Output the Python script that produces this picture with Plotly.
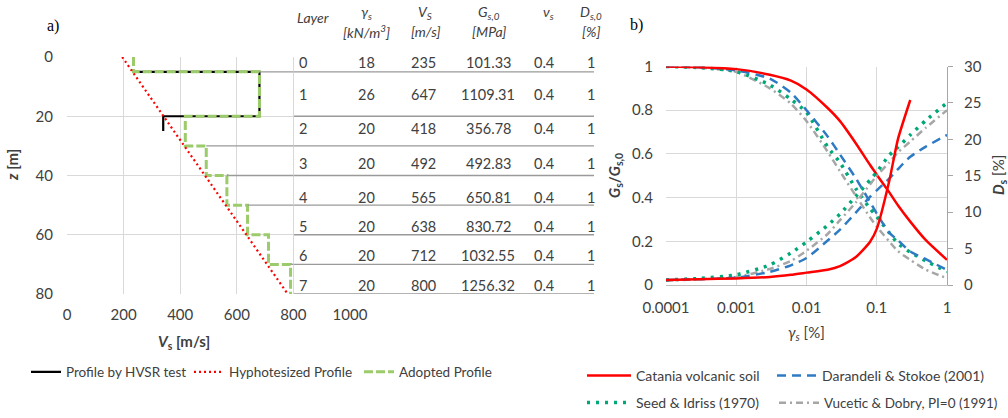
import plotly.graph_objects as go

W, H = 1008, 418
def px(x): return x / W
def py(y): return 1 - y / H

# ---------------- Panel a) data ----------------
hvsr_vs = [240, 680, 680, 340, 340]
hvsr_z = [5, 5, 20, 20, 25]

layer_top = [0, 5, 20, 30, 40, 50, 60, 70]
layer_bot = [5, 20, 30, 40, 50, 60, 70, 80]
adopted_vs = [235, 680, 418, 492, 565, 638, 712, 790]

hyp_vs = [195, 780]
hyp_z = [0, 80]

# table
layers = ["0", "1", "2", "3", "4", "5", "6", "7"]
gamma_s = ["18", "26", "20", "20", "20", "20", "20", "20"]
vs_tab = ["235", "647", "418", "492", "565", "638", "712", "800"]
g0_tab = ["101.33", "1109.31", "356.78", "492.83", "650.81", "830.72", "1032.55", "1256.32"]
nu_tab = ["0.4"] * 8
d0_tab = ["1"] * 8
row_z = [1.7, 12.8, 24.0, 35.8, 47.3, 57.1, 66.9, 77.0]

# ---------------- Panel b) data ----------------
gam = [0.0001, 0.0003, 0.001, 0.003, 0.006, 0.01, 0.02, 0.03, 0.05, 0.08, 0.1, 0.15, 0.2, 0.3, 0.5, 1.0]
cat_G = [1.0, 0.997, 0.988, 0.962, 0.935, 0.895, 0.81, 0.75, 0.65, 0.55, 0.505, 0.425, 0.365, 0.29, 0.205, 0.115]
cat_D = [0.7, 0.8, 0.9, 1.1, 1.4, 1.7, 2.1, 2.6, 3.8, 5.9, 7.7, 14.2, 20.0, 25.4]
dar_G = [1.0, 0.996, 0.982, 0.945, 0.88, 0.80, 0.68, 0.597, 0.49, 0.38, 0.327, 0.24, 0.205, 0.153, 0.118, 0.069]
dar_D = [0.7, 0.8, 1.0, 1.8, 2.7, 3.7, 6.1, 7.6, 9.9, 12.1, 13.0, 14.6, 15.9, 17.6, 19.0, 20.6]
sei_G = [1.0, 0.995, 0.977, 0.916, 0.85, 0.79, 0.632, 0.56, 0.443, 0.35, 0.313, 0.24, 0.19, 0.15, 0.11, 0.061]
sei_D = [0.7, 0.9, 1.4, 2.75, 4.4, 5.9, 8.2, 9.75, 12.15, 14.4, 15.5, 17.8, 18.9, 20.6, 22.6, 25.0]
vd_G = [1.0, 0.994, 0.975, 0.90, 0.83, 0.75, 0.61, 0.52, 0.41, 0.31, 0.267, 0.20, 0.155, 0.115, 0.07, 0.031]
vd_D = [0.6, 0.8, 1.1, 2.2, 3.3, 4.7, 7.0, 8.9, 11.3, 13.8, 15.0, 16.8, 18.2, 19.7, 21.6, 24.0]

FONT = "Lato"
GRID = "#d9d9d9"
RED = "#FF0000"
BLUE = "#2E7BC4"
GREEN = "#00A878"
GRAY = "#A6A6A6"
LGREEN = "#9BCB6A"
TXT = "#404040"

fig = go.Figure()

# adopted profile as step polyline
ad_x, ad_y = [], []
for v, t, b in zip(adopted_vs, layer_top, layer_bot):
    ad_x += [v, v]
    ad_y += [t, b]

fig.add_trace(go.Scatter(x=hvsr_vs, y=hvsr_z, mode="lines", name="Profile by HVSR test",
                         line=dict(color="black", width=2.2), xaxis="x", yaxis="y", legend="legend"))
fig.add_trace(go.Scatter(x=ad_x, y=ad_y, mode="lines", name="Adopted Profile",
                         line=dict(color=LGREEN, width=3, dash="9px,3px"), xaxis="x", yaxis="y",
                         legend="legend3"))
fig.add_trace(go.Scatter(x=hyp_vs, y=hyp_z, mode="lines", name="Hyphotesized Profile",
                         line=dict(color=RED, width=2.2, dash="2px,3px"), xaxis="x", yaxis="y",
                         legend="legend2"))

# panel b traces
def add_pair(G, D, name, color, width, dash, leg):
    ln = dict(color=color, width=width, dash=dash, shape="spline", smoothing=0.6)
    fig.add_trace(go.Scatter(x=gam[:len(G)], y=G, mode="lines", name=name, legendgroup=name,
                             line=ln, xaxis="x2", yaxis="y2", legend=leg))
    fig.add_trace(go.Scatter(x=gam[:len(D)], y=D, mode="lines", name=name, legendgroup=name,
                             showlegend=False, line=ln, xaxis="x2", yaxis="y3"))

add_pair(vd_G, vd_D, "Vucetic & Dobry, PI=0 (1991)", GRAY, 2.5, "7px,4px,2px,4px", "legend7")
add_pair(sei_G, sei_D, "Seed & Idriss (1970)", GREEN, 3.5, "3px,6px", "legend6")
add_pair(dar_G, dar_D, "Darandeli & Stokoe (2001)", BLUE, 2.5, "9px,6px", "legend5")
add_pair(cat_G, cat_D, "Catania volcanic soil", RED, 2.5, "solid", "legend4")

tickfont = dict(family=FONT, size=15, color=TXT)

shapes = []
# hide the 1000 gridline below row 0
shapes.append(dict(type="rect", xref="paper", yref="paper", x0=px(343), x1=px(357), y0=py(73), y1=py(300),
                   fillcolor="white", line=dict(width=0), layer="above"))
# table row lines
bounds = [5, 20, 30, 40, 50, 60, 70, 80]
starts = [680, 800, 492, 565, 638, 800, 790, 800]
for zb, s in zip(bounds, starts):
    shapes.append(dict(type="line", xref="x", yref="y", x0=s, x1=800, y0=zb, y1=zb,
                       line=dict(color="#9a9a9a", width=1.3), layer="above"))
    shapes.append(dict(type="line", xref="paper", yref="y", x0=px(294), x1=px(594), y0=zb, y1=zb,
                       line=dict(color="#9a9a9a", width=1.3), layer="above"))

ann = []
tf = dict(family=FONT, size=14.5, color=TXT)
col_x = [303, 366, 423, 488, 544, 591]
cols = [layers, gamma_s, vs_tab, g0_tab, nu_tab, d0_tab]
for cx, col in zip(col_x, cols):
    for z, t in zip(row_z, col):
        ann.append(dict(x=px(cx), y=z, xref="paper", yref="y", text=t, showarrow=False,
                        font=tf, xanchor="center", yanchor="middle"))

hf = dict(family=FONT, size=14, color=TXT)
headers = [
    (313, 17, "<i>Layer</i>"),
    (366, 13, "<i>γ<sub>s</sub></i>"),
    (366, 31, "<i>[kN/m<sup>3</sup>]</i>"),
    (425, 13, "<i>V<sub>S</sub></i>"),
    (425, 31, "<i>[m/s]</i>"),
    (489, 13, "<i>G<sub>s,0</sub></i>"),
    (489, 31, "<i>[MPa]</i>"),
    (548, 13, "<i>ν<sub>s</sub></i>"),
    (591, 13, "<i>D<sub>s,0</sub></i>"),
    (591, 31, "<i>[%]</i>"),
]
for x, y, t in headers:
    ann.append(dict(x=px(x), y=py(y), xref="paper", yref="paper", text=t, showarrow=False,
                    font=hf, xanchor="center", yanchor="middle"))

for x, y, t in [(53, 26, "a)"), (636, 25, "b)")]:
    ann.append(dict(x=px(x), y=py(y), xref="paper", yref="paper", text=t, showarrow=False,
                    xanchor="center", yanchor="middle",
                    font=dict(family="Liberation Serif", size=16, color="black")))

# axis titles
titlefont = dict(family=FONT, size=15, color=TXT)
titles = [
    (12, 165, -90, "<b><i>z</i> [m]</b>"),
    (184, 342, 0, "<b><i>V</i><sub>s</sub> [m/s]</b>"),
    (615, 176, -90, "<b><i>G</i><sub>s</sub>/<i>G</i><sub>s,0</sub></b>"),
    (999, 175, -90, "<b><i>D</i><sub>s</sub></b> [%]"),
    (806, 333, 0, "<i>γ<sub>s</sub></i> [%]"),
]
for x, y, a, t in titles:
    ann.append(dict(x=px(x), y=py(y), xref="paper", yref="paper", text=t, showarrow=False,
                    textangle=a, font=titlefont, xanchor="center", yanchor="middle"))

legL = dict(family=FONT, size=13.5, color=TXT)
legR = dict(family=FONT, size=14, color=TXT)
legR2 = dict(family=FONT, size=13.5, color=TXT)
def leg(x, y, f, iw=30):
    return dict(orientation="h", xref="container", yref="container", x=px(x), y=py(y),
                yanchor="middle", xanchor="left", font=f, bgcolor="rgba(0,0,0,0)", itemwidth=iw)

fig.update_layout(
    width=W, height=H, margin=dict(l=0, r=0, t=0, b=0, autoexpand=False),
    paper_bgcolor="white", plot_bgcolor="white",
    font=dict(family=FONT, color=TXT),
    xaxis=dict(domain=[px(67), px(350)], range=[0, 1000], tickvals=[0, 200, 400, 600, 800, 1000],
               showgrid=True, gridcolor=GRID, zeroline=False, showline=False, ticks="",
               tickfont=tickfont, ticklabelstandoff=10, anchor="y"),
    yaxis=dict(domain=[py(294), py(57)], range=[80, 0], tickvals=[0, 20, 40, 60, 80],
               showgrid=True, gridcolor=GRID, zeroline=False, showline=False, ticks="",
               tickfont=tickfont, ticklabelstandoff=13, anchor="x"),
    xaxis2=dict(domain=[px(666), px(947)], type="log", range=[-4, 0],
                tickvals=[0.0001, 0.001, 0.01, 0.1, 1], ticktext=["0.0001", "0.001", "0.01", "0.1", "1"],
                showgrid=True, gridcolor=GRID, zeroline=False, showline=True, linecolor="#bfbfbf",
                ticks="", tickfont=tickfont, ticklabelstandoff=9, anchor="y2"),
    yaxis2=dict(domain=[py(285), py(66.5)], range=[0, 1], tickvals=[0, 0.2, 0.4, 0.6, 0.8, 1],
                ticktext=["0", "0.2", "0.4", "0.6", "0.8", "1"],
                showgrid=True, gridcolor=GRID, zeroline=False, showline=False, ticks="",
                tickfont=tickfont, ticklabelstandoff=12, anchor="x2"),
    yaxis3=dict(domain=[py(285), py(66.5)], range=[0, 30], tickvals=[0, 5, 10, 15, 20, 25, 30],
                overlaying="y2", side="right", anchor="x2",
                showgrid=False, zeroline=False, showline=True, linecolor="#a6a6a6",
                ticks="outside", ticklen=5, tickcolor="#a6a6a6",
                tickfont=tickfont, ticklabelstandoff=8),
    legend=leg(26, 372, legL),
    legend2=leg(189, 372, legL),
    legend3=leg(359, 372, legL),
    legend4=leg(582, 376, legR, 44),
    legend5=leg(772, 376, legR, 40),
    legend6=leg(582, 403, legR, 44),
    legend7=leg(774, 403, legR2, 40),
    shapes=shapes, annotations=ann, showlegend=True,
)

fig.write_html("out.html")
